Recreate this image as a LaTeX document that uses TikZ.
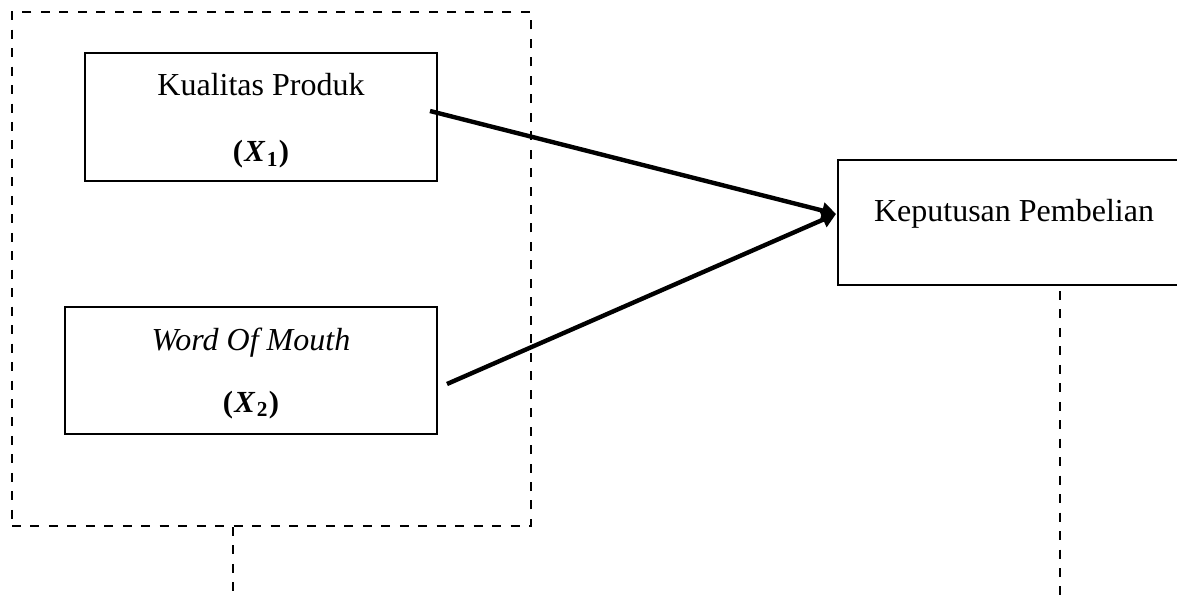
\documentclass[tikz,border=0pt]{standalone}
\usepackage{fontspec}
\setmainfont{Liberation Serif}
\usetikzlibrary{arrows.meta,calc}
\newcommand{\varlab}[1]{{\fontsize{23}{27}\selectfont\bfseries (\kern1pt\textit{X}\kern1pt\raisebox{-0.3ex}{\fontsize{16}{16}\selectfont #1}\kern1pt)}}
\tikzset{
  box/.style={draw=black, line width=2pt, rectangle, inner sep=0pt, outer sep=0pt},
  grpbox/.style={draw=black, line width=2pt, rectangle, inner sep=0pt, outer sep=0pt, dash pattern=on 6.75pt off 7.1pt},
  dline/.style={draw=black, line width=2pt, dash pattern=on 6.75pt off 7.1pt},
  lbl/.style={anchor=base, inner sep=0pt, font=\fontsize{24}{29}\selectfont},
  conn/.style={line width=3.3pt, -{Triangle[length=10.5pt,width=12pt]}}
}
\begin{document}
\begin{tikzpicture}[x=0.75pt,y=-0.75pt]
\useasboundingbox (0,0) rectangle (1177,595);
\clip (0,0) rectangle (1177,595);
\fill[white] (0,0) rectangle (1177,595);
% group of independent variables
\node[grpbox, minimum width=389.25pt, minimum height=385.5pt] (grp) at (271.5,269) {};
% boxes
\node[box, minimum width=264pt, minimum height=96pt] (x1) at (261,117) {};
\node[box, minimum width=279pt, minimum height=95.25pt] (x2) at (251,370.5) {};
\node[box, minimum width=264pt, minimum height=93.75pt] (y) at (1014,222.5) {};
% labels
\node[lbl] (t1) at (261,96) {Kualitas Produk};
\node[lbl] (t1b) at (261,162) {\varlab{1}};
\node[lbl] (t2) at (251,350) {\itshape Word Of Mouth};
\node[lbl] (t2b) at (251,412) {\varlab{2}};
\node[lbl] (t3) at (1014,222) {Keputusan Pembelian};
% connectors
\draw[conn] ($(x1.east)+(-7,-6)$) -- ($(y.west)+(-2,-8.5)$);
\draw[conn] ($(x2.east)+(10,13.5)$) -- ($(y.west)+(-2,-8.5)$);
% dashed stubs
\coordinate (s1) at (233,600);
\coordinate (s2) at (1060,600);
\draw[dline] ($(grp.south -| s1)+(0,1)$) -- (s1);
\draw[dline] ($(y.south -| s2)+(0,6)$) -- (s2);
\end{tikzpicture}
\end{document}
